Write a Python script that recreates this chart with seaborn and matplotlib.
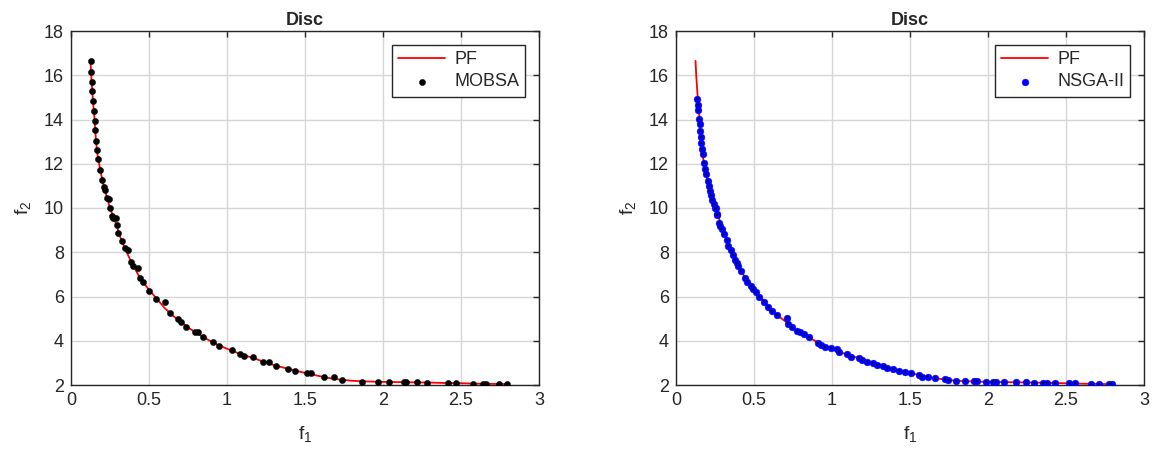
import numpy as np
import pandas as pd
import matplotlib
matplotlib.use("Agg")
import matplotlib.pyplot as plt
import seaborn as sns

# ---------------- data ----------------
pf_f1 = [0.125, 0.13, 0.14, 0.15, 0.16, 0.17, 0.19, 0.21, 0.23, 0.25, 0.27, 0.29, 0.31, 0.33,
         0.35, 0.38, 0.40, 0.43, 0.46, 0.50, 0.55, 0.60, 0.65, 0.70, 0.75, 0.80, 0.85, 0.90,
         0.95, 1.00, 1.05, 1.10, 1.17, 1.23, 1.30, 1.37, 1.44, 1.51, 1.58, 1.65, 1.72, 1.80,
         1.90, 2.00, 2.10, 2.20, 2.30, 2.40, 2.50, 2.60, 2.70, 2.80]
pf_f2 = [16.65, 15.95, 14.9, 14.1, 13.05, 12.4, 11.62, 11.0, 10.48, 10.0, 9.62, 9.27, 8.8, 8.42,
         8.12, 7.65, 7.38, 7.0, 6.67, 6.3, 5.9, 5.48, 5.15, 4.88, 4.6, 4.37, 4.16, 3.96,
         3.78, 3.64, 3.5, 3.36, 3.22, 3.06, 2.9, 2.77, 2.65, 2.53, 2.42, 2.32, 2.25, 2.19,
         2.16, 2.14, 2.13, 2.12, 2.11, 2.09, 2.08, 2.06, 2.05, 2.04]

mobsa_f1 = [0.126, 0.128, 0.133, 0.137, 0.141, 0.147, 0.152, 0.156, 0.160, 0.167, 0.173, 0.188,
            0.199, 0.212, 0.220, 0.231, 0.246, 0.250, 0.261, 0.271, 0.288, 0.293, 0.303, 0.325,
            0.346, 0.368, 0.385, 0.400, 0.432, 0.442, 0.460, 0.502, 0.545, 0.605, 0.635, 0.688,
            0.703, 0.737, 0.795, 0.816, 0.844, 0.912, 0.951, 1.030, 1.083, 1.109, 1.165, 1.229,
            1.271, 1.312, 1.393, 1.436, 1.511, 1.537, 1.622, 1.686, 1.739, 1.863, 1.970, 2.040,
            2.135, 2.146, 2.216, 2.280, 2.419, 2.468, 2.575, 2.639, 2.658, 2.746, 2.797]
mobsa_f2 = [16.65, 16.15, 15.71, 15.30, 14.85, 14.40, 13.91, 13.51, 13.05, 12.63, 12.21, 11.70,
            11.28, 10.97, 10.82, 10.45, 10.40, 10.00, 9.62, 9.55, 9.54, 9.24, 8.86, 8.50,
            8.19, 8.11, 7.58, 7.38, 7.28, 6.83, 6.67, 6.27, 5.89, 5.77, 5.27, 4.97,
            4.86, 4.64, 4.38, 4.38, 4.16, 3.96, 3.76, 3.58, 3.39, 3.33, 3.25, 3.05,
            3.03, 2.87, 2.72, 2.65, 2.53, 2.53, 2.38, 2.38, 2.23, 2.15, 2.15, 2.15,
            2.12, 2.12, 2.12, 2.10, 2.08, 2.08, 2.06, 2.06, 2.06, 2.05, 2.03]

nsga_f1 = [0.137, 0.141, 0.143, 0.150, 0.152, 0.156, 0.158, 0.162, 0.167, 0.171, 0.181, 0.186,
           0.192, 0.205, 0.210, 0.216, 0.226, 0.233, 0.244, 0.252, 0.261, 0.256, 0.263, 0.274,
           0.282, 0.295, 0.308, 0.325, 0.335, 0.351, 0.367, 0.378, 0.389, 0.400, 0.417, 0.444,
           0.457, 0.481, 0.496, 0.511, 0.532, 0.564, 0.592, 0.613, 0.645, 0.710, 0.716, 0.741,
           0.778, 0.795, 0.821, 0.853, 0.908, 0.929, 0.955, 0.994, 1.030, 1.045, 1.098, 1.122,
           1.173, 1.190, 1.226, 1.260, 1.290, 1.329, 1.355, 1.389, 1.432, 1.468, 1.505, 1.560,
           1.575, 1.613, 1.660, 1.724, 1.745, 1.795, 1.853, 1.910, 1.927, 1.987, 2.030, 2.051,
           2.104, 2.179, 2.244, 2.297, 2.350, 2.376, 2.429, 2.521, 2.558, 2.660, 2.712, 2.777,
           2.792]
nsga_f2 = [14.93, 14.66, 14.41, 14.02, 13.81, 13.49, 13.21, 12.94, 12.66, 12.45, 12.03, 11.77,
           11.53, 11.24, 11.00, 10.78, 10.57, 10.37, 10.18, 9.98, 9.71, 10.00, 9.69, 9.34,
           9.20, 9.05, 8.82, 8.56, 8.30, 8.08, 7.88, 7.66, 7.53, 7.40, 7.13, 6.83,
           6.67, 6.48, 6.33, 6.19, 6.00, 5.77, 5.52, 5.36, 5.17, 5.05, 4.76, 4.64,
           4.44, 4.38, 4.31, 4.16, 3.91, 3.81, 3.73, 3.66, 3.63, 3.48, 3.39, 3.28,
           3.20, 3.13, 3.05, 2.98, 2.90, 2.86, 2.78, 2.71, 2.65, 2.60, 2.53, 2.45,
           2.38, 2.38, 2.30, 2.26, 2.23, 2.18, 2.18, 2.18, 2.17, 2.15, 2.15, 2.15,
           2.14, 2.12, 2.12, 2.10, 2.10, 2.10, 2.09, 2.09, 2.08, 2.06, 2.05, 2.05,
           2.05]

titles = ["Disc", "Disc"]
x_ticks = [0, 0.5, 1, 1.5, 2, 2.5, 3]
x_ticklabels = ["0", "0.5", "1", "1.5", "2", "2.5", "3"]
y_ticks = [2, 4, 6, 8, 10, 12, 14, 16, 18]

# ---------------- style ----------------
sns.set_theme(style="white")
plt.rcParams["font.family"] = ["Liberation Sans", "DejaVu Sans"]
plt.rcParams["mathtext.default"] = "regular"
plt.rcParams["axes.edgecolor"] = "#262626"
plt.rcParams["axes.linewidth"] = 1.0
plt.rcParams["xtick.direction"] = "in"
plt.rcParams["ytick.direction"] = "in"

pf_df = pd.DataFrame({"f1": pf_f1, "f2": pf_f2})
mobsa_df = pd.DataFrame({"f1": mobsa_f1, "f2": mobsa_f2})
nsga_df = pd.DataFrame({"f1": nsga_f1, "f2": nsga_f2})

fig = plt.figure(figsize=(11.53, 4.5), dpi=100)
ax1 = fig.add_axes([71 / 1153, 1 - 385 / 450, 468 / 1153, 354 / 450])
ax2 = fig.add_axes([676 / 1153, 1 - 385 / 450, 468 / 1153, 354 / 450])

def style_axes(ax, title):
    ax.set_xlim(0, 3)
    ax.set_ylim(2, 18)
    ax.set_xticks(x_ticks)
    ax.set_xticklabels(x_ticklabels)
    ax.set_yticks(y_ticks)
    ax.grid(True, color="#d6d6d6", linewidth=1.0)
    ax.set_axisbelow(True)
    ax.tick_params(axis="both", which="both", direction="in", length=4, width=1,
                   top=True, right=True, labelsize=13, colors="#262626", pad=5)
    for lab in ax.get_xticklabels() + ax.get_yticklabels():
        lab.set_color("#262626")
    ax.set_title(title, fontsize=13, fontweight="bold", pad=4)
    ax.set_xlabel("f$_1$", fontsize=14, labelpad=11, color="#262626")
    ax.set_ylabel("f$_2$", fontsize=14, labelpad=8, color="#262626")
    for sp in ax.spines.values():
        sp.set_visible(True)
        sp.set_color("#262626")

# left panel
sns.lineplot(data=pf_df, x="f1", y="f2", ax=ax1, color="red", linewidth=1.3, sort=False,
             label="PF", zorder=2)
sns.scatterplot(data=mobsa_df, x="f1", y="f2", ax=ax1, color="black", s=20, marker="o",
                edgecolor="black", linewidth=0.3, label="MOBSA", zorder=3)
style_axes(ax1, titles[0])

# right panel
sns.lineplot(data=pf_df, x="f1", y="f2", ax=ax2, color="red", linewidth=1.3, sort=False,
             label="PF", zorder=2)
sns.scatterplot(data=nsga_df, x="f1", y="f2", ax=ax2, color="#0000ff", s=24, marker="o",
                edgecolor="#0000ff", linewidth=0.3, label="NSGA-II", zorder=3)
sns.scatterplot(data=nsga_df, x="f1", y="f2", ax=ax2, color="black", s=2, marker="o",
                edgecolor="none", linewidth=0, legend=False, zorder=4)
style_axes(ax2, titles[1])

for ax in (ax1, ax2):
    leg = ax.legend(loc="upper right", fontsize=13, frameon=True, fancybox=False,
                    framealpha=1, edgecolor="#262626", borderpad=0.35, labelspacing=0.3,
                    handlelength=2.6, handletextpad=0.5, borderaxespad=0.75)
    leg.get_frame().set_linewidth(1.0)

fig.savefig("out.png", dpi=100)
